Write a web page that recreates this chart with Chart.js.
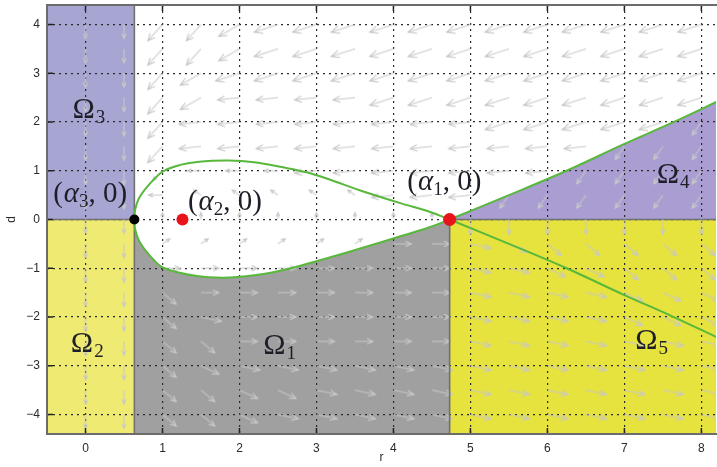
<!DOCTYPE html>
<html>
<head>
<meta charset="utf-8">
<script src="https://cdn.jsdelivr.net/npm/chart.js@4"></script>
<style>
  html, body { margin: 0; padding: 0; background: #fff; overflow: hidden; }
  canvas { display: block; }
</style>
</head>
<body>
<canvas id="grafico" width="717" height="467"></canvas>
<script>
// equilibrios sobre d = 0
const alfa1 = 4.73;
const alfa2 = 1.26;
const alfa3 = 0.635;

// curva verde (lazo + ramas), en orden de recorrido
const curvaR = [8.25, 7.6, 7.0, 6.25, 5.5, 4.73, 4.45, 4.1, 3.6, 3.17, 2.74, 2.31, 1.88, 1.45, 1.01, 0.84, 0.7, 0.645, 0.635,
  0.645, 0.7, 0.84, 1.01, 1.23, 1.45, 1.85, 2.22, 2.53, 2.87, 3.17, 3.56, 4.1, 4.45, 4.73, 5.5, 6.25, 7.0, 7.6, 8.25];
const curvaD = [2.45, 1.97, 1.55, 1.0, 0.5, 0, -0.17, -0.34, -0.58, -0.78, -0.97, -1.12, -1.19, -1.16, -0.99, -0.75, -0.45, -0.2, 0,
  0.2, 0.45, 0.74, 0.99, 1.12, 1.18, 1.21, 1.17, 1.08, 0.97, 0.82, 0.6, 0.33, 0.17, 0, -0.5, -1.0, -1.55, -1.97, -2.45];

// campo de direcciones (una letra por flecha, filas de d = 4 a d = -4)
const columnasR = [0, 0.5, 1, 1.5, 2, 2.5, 3, 3.5, 4, 4.5, 5, 5.5, 6, 6.5, 7, 7.5, 8];
const filasD = [4, 3.5, 3, 2.5, 2, 1.5, 1, 0.5, 0, -0.5, -1, -1.5, -2, -2.5, -3, -3.5, -4];
const flechas = [
  "SSAABCCCCCCCCCCCC",
  "SSAABCCCCCCCCCCCC",
  "SSABCCCCCCCCCCCCC",
  "SSABLLLLCCCCCCCCC",
  "SSALLLLLLLLCCCCCh",
  "SSALLLLLLLLLLLhhh",
  "SSalllLLLLLLLhhhh",
  "SSloooooLLLhhhhhh",
  "SSuuuuuuuuddddddd",
  "SSnnnnnnrrefggggg",
  "SSrrrrrrrreeffggg",
  "SSgrrrrrrreeeefff",
  "SSgerrrrrreeeefff",
  "SSggrrrrrreeeeeee",
  "SSgfeeeeeeeeeeeee",
  "SSggffeeeeeeeeeee",
  "SSggfeeeeeeeeeeee"
];
const anguloFlecha = { S: 270, A: 228, a: 225, B: 210, C: 198, L: 186, l: 180, h: 235, d: 270, g: -40, f: -25, e: -12, r: 0, u: 90, n: 35, o: 145 };
const largoFlecha = { S: 14, A: 22, a: 14, B: 24, C: 25, L: 22, l: 14, h: 16, d: 15, g: 18, f: 20, e: 21, r: 18, u: 7, n: 9, o: 9 };

// rotulos (esquina izquierda, linea base)
const etqBase = ['Ω', 'Ω', 'Ω', 'Ω', 'Ω', 'α', 'α', 'α'];
const etqSub = ['1', '2', '3', '4', '5', '1', '2', '3'];
const etqR = [2.31, -0.19, -0.17, 7.42, 7.14, 4.18, 1.33, -0.42];
const etqD = [-2.76, -2.72, 2.09, 0.74, -2.66, 0.61, 0.2, 0.35];

const ticksX = [0, 1, 2, 3, 4, 5, 6, 7, 8];
const ticksY = [-4, -3, -2, -1, 0, 1, 2, 3, 4];

const puntosCurva = curvaR.map((r, i) => ({ x: r, y: curvaD[i] }));
const ramaInferior = puntosCurva.slice(5, 19).reverse();
const ramaOmega4 = puntosCurva.slice(0, 6).reverse();

const datosFlechas = [];
filasD.forEach((d, i) => {
  [...flechas[i]].forEach((c, j) => {
    if (c !== '.') datosFlechas.push({ x: columnasR[j], y: d, c: c });
  });
});

const cacheFlechas = {};
function imagenFlecha(largo) {
  if (cacheFlechas[largo]) return cacheFlechas[largo];
  const cv = document.createElement('canvas');
  cv.width = 2 * largo + 8;
  cv.height = 16;
  const g = cv.getContext('2d');
  const cx = cv.width / 2, cy = cv.height / 2;
  const punta = Math.max(4, largo * 0.33);
  g.strokeStyle = '#c8c8c8';
  g.lineWidth = 1.1;
  g.beginPath();
  g.moveTo(cx, cy);
  g.lineTo(cx + largo, cy);
  g.moveTo(cx + largo - punta, cy - punta * 0.45);
  g.lineTo(cx + largo, cy);
  g.lineTo(cx + largo - punta, cy + punta * 0.45);
  g.stroke();
  cacheFlechas[largo] = cv;
  return cv;
}

function linea(ctx, x1, y1, x2, y2) {
  ctx.beginPath();
  ctx.moveTo(x1, y1);
  ctx.lineTo(x2, y2);
  ctx.stroke();
}

const rotulos = {
  id: 'rotulos',
  afterDatasetsDraw(chart) {
    const { ctx, chartArea: a, scales: { x, y } } = chart;
    ctx.save();
    // marcas interiores
    ctx.strokeStyle = '#222';
    ctx.lineWidth = 1.5;
    ticksX.forEach(v => {
      const px = x.getPixelForValue(v);
      linea(ctx, px, a.top, px, a.top + 6);
      linea(ctx, px, a.bottom, px, a.bottom - 6);
    });
    ticksY.forEach(v => {
      const py = y.getPixelForValue(v);
      linea(ctx, a.left, py, a.left + 6, py);
    });
    // borde
    ctx.strokeStyle = '#6c6c6c';
    ctx.lineWidth = 2;
    ctx.strokeRect(a.left, a.top, a.width + 4, a.height);

    // textos
    ctx.fillStyle = '#1e1e28';
    ctx.textBaseline = 'alphabetic';
    ctx.textAlign = 'left';
    etqBase.forEach((b, i) => {
      let px = x.getPixelForValue(etqR[i]);
      const py = y.getPixelForValue(etqD[i]);
      if (b === 'Ω') {
        ctx.font = '30px "Liberation Serif"';
        ctx.fillText(b, px, py);
        px += ctx.measureText(b).width;
        ctx.font = '19px "Liberation Serif"';
        ctx.fillText(etqSub[i], px + 1, py + 5);
      } else {
        ctx.font = '29px "Liberation Serif"';
        ctx.fillText('(', px, py);
        px += ctx.measureText('(').width + 1;
        ctx.font = 'italic 29px "Liberation Serif"';
        ctx.fillText(b, px, py);
        px += ctx.measureText(b).width;
        ctx.font = '19px "Liberation Serif"';
        ctx.fillText(etqSub[i], px, py + 5);
        px += ctx.measureText(etqSub[i]).width;
        ctx.font = '29px "Liberation Serif"';
        ctx.fillText(', 0)', px, py);
      }
    });
    ctx.restore();
  }
};

const fuenteEje = { family: '"Liberation Sans", Arial, sans-serif', size: 12 };

function sinRelleno(s) {
  s.paddingTop = 0;
  s.paddingBottom = 0;
  s.paddingLeft = 0;
  s.paddingRight = 0;
}

const ctx = document.getElementById('grafico').getContext('2d');

const grafico = new Chart(ctx, {
  type: 'scatter',
  data: {
    datasets: [
      {
        // equilibrios
        data: [{ x: alfa3, y: 0 }, { x: alfa2, y: 0 }, { x: alfa1, y: 0 }],
        pointRadius: [5, 6, 6.5],
        pointBackgroundColor: ['#000000', '#e8141c', '#e8141c'],
        pointBorderWidth: 0,
        showLine: false
      },
      {
        // curva
        data: puntosCurva,
        showLine: true,
        borderColor: '#58b83c',
        borderWidth: 2,
        tension: 0.35,
        pointRadius: 0,
        fill: false
      },
      {
        data: [{ x: alfa3, y: -4.6 }, { x: alfa3, y: 4.6 }],
        showLine: true, borderColor: '#707070', borderWidth: 1.6, pointRadius: 0
      },
      {
        data: [{ x: alfa1, y: 0 }, { x: alfa1, y: -4.6 }],
        showLine: true, borderColor: '#707070', borderWidth: 1.6, pointRadius: 0
      },
      {
        // campo de direcciones
        data: datosFlechas,
        showLine: false,
        pointRadius: 3,
        pointStyle: c => c.raw ? imagenFlecha(largoFlecha[c.raw.c]) : 'circle',
        rotation: c => c.raw ? -anguloFlecha[c.raw.c] : 0
      },
      {
        // Omega 3
        data: [{ x: -0.7, y: 4.6 }, { x: alfa3, y: 4.6 }],
        showLine: true, fill: { value: 0 }, backgroundColor: '#a7a6d3', borderWidth: 0, pointRadius: 0
      },
      {
        // Omega 2
        data: [{ x: -0.7, y: 0 }, { x: alfa3, y: 0 }],
        showLine: true, fill: { value: -5 }, backgroundColor: '#efea72', borderColor: '#707070', borderWidth: 1.6, pointRadius: 0
      },
      {
        // Omega 1
        data: ramaInferior,
        showLine: true, tension: 0.35, fill: { value: -5 }, backgroundColor: '#a0a0a0', borderWidth: 0, pointRadius: 0
      },
      {
        // Omega 5
        data: [{ x: alfa1, y: 0 }, { x: 8.5, y: 0 }],
        showLine: true, fill: { value: -5 }, backgroundColor: '#e6e23e', borderColor: '#707070', borderWidth: 1.6, pointRadius: 0
      },
      {
        // Omega 4
        data: ramaOmega4,
        showLine: true, tension: 0.35, fill: { value: 0 }, backgroundColor: '#a99dd1', borderWidth: 0, pointRadius: 0
      }
    ]
  },
  options: {
    responsive: false,
    animation: false,
    layout: { autoPadding: false, padding: { top: 5, right: 1, left: 0, bottom: 0 } },
    plugins: {
      legend: { display: false },
      tooltip: { enabled: false },
      filler: { drawTime: 'beforeDraw' }
    },
    scales: {
      x: {
        type: 'linear',
        min: -0.5,
        max: 8.19,
        afterBuildTicks: s => { s.ticks = ticksX.map(v => ({ value: v })); },
        afterFit: s => { s.height = 33; sinRelleno(s); },
        grid: { color: '#2a2a2a', lineWidth: 1.2, drawTicks: false },
        border: { display: false, dash: [2, 4] },
        ticks: { font: fuenteEje, color: '#2a2a2a', padding: 7 },
        title: { display: true, text: 'r', font: fuenteEje, color: '#2a2a2a', padding: { top: 0, bottom: 2 } }
      },
      y: {
        type: 'linear',
        min: -4.4,
        max: 4.4,
        afterBuildTicks: s => { s.ticks = ticksY.map(v => ({ value: v })); },
        afterFit: s => { s.width = 47; sinRelleno(s); },
        grid: { color: '#2a2a2a', lineWidth: 1.2, drawTicks: false },
        border: { display: false, dash: [2, 4] },
        ticks: {
          font: fuenteEje, color: '#2a2a2a', padding: 7,
          callback: v => String(v).replace('-', '\u2212')
        },
        title: { display: true, text: 'd', font: fuenteEje, color: '#2a2a2a', padding: { top: 4, bottom: 4 } }
      }
    }
  },
  plugins: [rotulos]
});
</script>
</body>
</html>
